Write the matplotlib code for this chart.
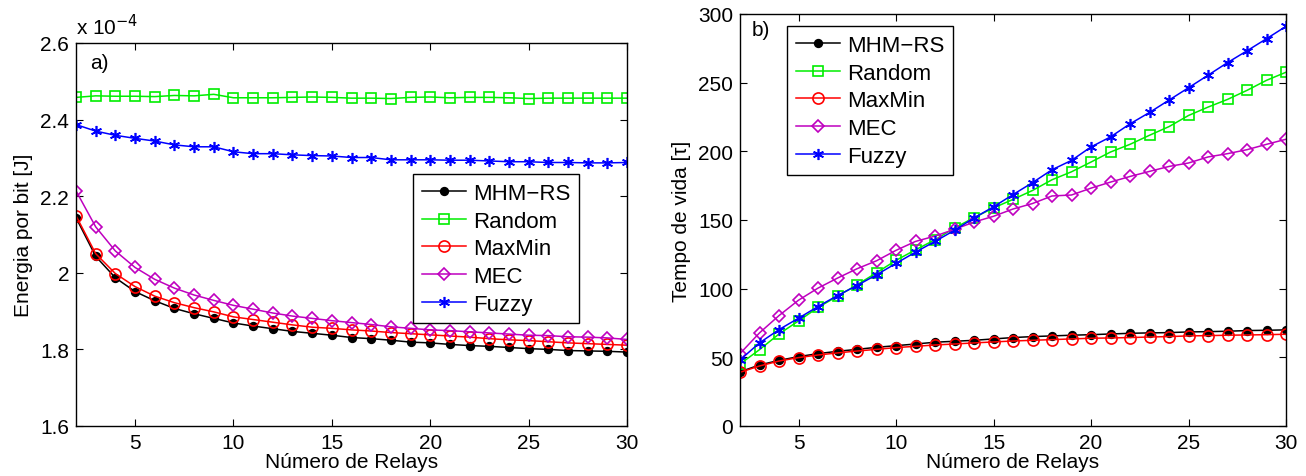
import matplotlib
matplotlib.use("Agg")
import matplotlib.pyplot as plt
import numpy as np

plt.rcParams['font.family'] = ['Liberation Sans', 'DejaVu Sans']

relays = list(range(2, 31))

# (a) Energia por bit [J] x 1e-4
e_mhm = [2.144, 2.043, 1.987, 1.951, 1.927, 1.907, 1.893, 1.881, 1.869, 1.861,
         1.854, 1.847, 1.842, 1.837, 1.831, 1.828, 1.824, 1.819, 1.817, 1.813,
         1.810, 1.808, 1.805, 1.802, 1.800, 1.797, 1.796, 1.795, 1.793]
e_random = [2.458, 2.462, 2.461, 2.461, 2.460, 2.463, 2.462, 2.466, 2.457, 2.457,
            2.457, 2.458, 2.459, 2.458, 2.456, 2.456, 2.455, 2.458, 2.459, 2.457,
            2.458, 2.458, 2.457, 2.455, 2.456, 2.456, 2.456, 2.456, 2.456]
e_maxmin = [2.149, 2.050, 1.998, 1.964, 1.939, 1.922, 1.909, 1.898, 1.885, 1.878,
            1.871, 1.864, 1.858, 1.855, 1.851, 1.848, 1.844, 1.841, 1.838, 1.835,
            1.832, 1.828, 1.825, 1.823, 1.820, 1.817, 1.815, 1.813, 1.811]
e_mec = [2.214, 2.120, 2.057, 2.014, 1.983, 1.960, 1.942, 1.928, 1.915, 1.905,
         1.895, 1.887, 1.881, 1.875, 1.870, 1.865, 1.859, 1.855, 1.851, 1.849,
         1.846, 1.843, 1.840, 1.837, 1.836, 1.833, 1.832, 1.830, 1.826]
e_fuzzy = [2.387, 2.370, 2.359, 2.351, 2.344, 2.334, 2.329, 2.329, 2.316, 2.311,
           2.311, 2.308, 2.306, 2.305, 2.301, 2.301, 2.295, 2.295, 2.295, 2.294,
           2.294, 2.292, 2.290, 2.290, 2.288, 2.288, 2.287, 2.287, 2.288]

# (b) Tempo de vida [tau]
t_mhm = [39.5, 44.4, 47.8, 50.5, 52.7, 54.4, 55.8, 57.3, 58.5, 59.7,
         61.0, 61.7, 62.4, 63.4, 64.4, 65.1, 65.6, 66.1, 66.5, 67.0,
         67.5, 67.8, 68.0, 68.5, 68.7, 69.0, 69.5, 69.7, 70.0]
t_random = [45.1, 55.6, 67.0, 76.5, 86.3, 94.5, 102.8, 111.6, 120.6, 128.3,
            135.6, 144.2, 151.7, 158.8, 165.0, 171.5, 179.3, 185.1, 192.2, 199.5,
            205.1, 211.7, 218.0, 226.1, 232.2, 237.8, 244.4, 251.7, 257.6]
t_maxmin = [39.1, 43.7, 47.3, 49.8, 51.7, 53.2, 54.6, 55.8, 57.1, 58.0,
            59.0, 59.7, 60.5, 61.2, 61.9, 62.4, 62.9, 63.4, 63.9, 64.1,
            64.4, 64.8, 65.1, 65.6, 65.8, 66.1, 66.3, 66.5, 66.8]
t_mec = [52.7, 67.8, 80.4, 91.6, 100.4, 107.7, 114.5, 120.3, 127.9, 134.4,
         138.3, 143.2, 148.5, 152.7, 158.0, 162.0, 167.5, 168.2, 173.2, 177.6,
         181.7, 185.4, 189.0, 191.5, 195.9, 198.3, 201.2, 205.1, 208.8]
t_fuzzy = [48.1, 60.5, 70.2, 78.5, 87.0, 95.0, 102.3, 110.1, 118.4, 126.6,
           134.4, 142.5, 151.5, 159.6, 168.5, 177.2, 186.6, 193.4, 203.2, 210.5,
           220.0, 228.3, 237.3, 246.3, 255.4, 264.6, 273.2, 282.0, 291.0]

labels = ['MHM\u2212RS', 'Random', 'MaxMin', 'MEC', 'Fuzzy']
colors = ['black', '#00ee00', 'red', '#bf00bf', 'blue']
markers = ['o', 's', 'o', 'D', (6, 2, 0)]
fills = ['black', 'none', 'none', 'none', 'none']
msizes = [5.5, 6.5, 8, 6.0, 8]

W, H = 1306, 477
fig = plt.figure(figsize=(W / 100, H / 100), dpi=100)
ax1 = fig.add_axes([76 / W, 1 - 427 / H, (627 - 76) / W, (427 - 44) / H])
ax2 = fig.add_axes([740 / W, 1 - 427 / H, (1286 - 740) / W, (427 - 15) / H])

FS = 15
LFS = 16


def draw(ax, series):
    for s, lab, c, m, f, ms in zip(series, labels, colors, markers, fills, msizes):
        ax.plot(relays, s, color=c, marker=m, markersize=ms, markeredgecolor=c,
                markerfacecolor=f, linewidth=1.1, markeredgewidth=1.2, label=lab)
    ax.set_xlim(2, 30)
    ax.set_xticks([5, 10, 15, 20, 25, 30])
    ax.tick_params(direction='in', top=True, right=True, labelsize=FS, length=5,
                   width=0.8, pad=5)
    for sp in ax.spines.values():
        sp.set_linewidth(1.0)
    ax.set_xlabel('Número de Relays', fontsize=FS, labelpad=0)


def legend(ax, x_px, y_px, x0, x1, y0, y1):
    leg = ax.legend(loc='upper left',
                    bbox_to_anchor=((x_px - x0) / (x1 - x0), 1 - (y_px - y0) / (y1 - y0)),
                    fontsize=LFS, fancybox=False, edgecolor='black', framealpha=1,
                    handlelength=2.0, borderpad=0.4, labelspacing=0.3,
                    handletextpad=0.3, borderaxespad=0)
    leg.get_frame().set_linewidth(1.0)


draw(ax1, [e_mhm, e_random, e_maxmin, e_mec, e_fuzzy])
ax1.set_ylim(1.6, 2.6)
ax1.set_yticks([1.6, 1.8, 2.0, 2.2, 2.4, 2.6])
ax1.set_yticklabels(['1.6', '1.8', '2', '2.2', '2.4', '2.6'])
ax1.set_ylabel('Energia por bit [J]', fontsize=FS, labelpad=5)
ax1.text(0.0, 1.012, 'x 10$^{-4}$', transform=ax1.transAxes, fontsize=FS,
         ha='left', va='bottom')
ax1.text(0.025, 0.975, 'a)', transform=ax1.transAxes, fontsize=FS, ha='left', va='top')
legend(ax1, 413, 175, 76, 627, 44, 427)

draw(ax2, [t_mhm, t_random, t_maxmin, t_mec, t_fuzzy])
ax2.set_ylim(0, 300)
ax2.set_yticks(range(0, 301, 50))
ax2.set_ylabel('Tempo de vida [\u03c4]', fontsize=FS, labelpad=5)
ax2.text(0.022, 0.985, 'b)', transform=ax2.transAxes, fontsize=FS, ha='left', va='top')
legend(ax2, 787, 27, 740, 1286, 15, 427)

fig.savefig('out.png', dpi=100)
